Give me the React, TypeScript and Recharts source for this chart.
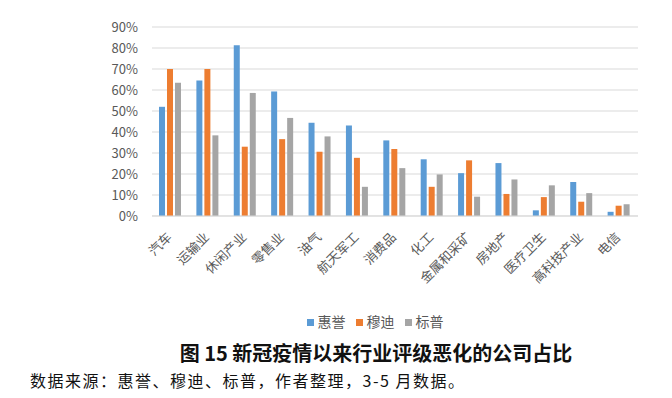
import { BarChart, Bar, XAxis, YAxis, CartesianGrid, Legend } from 'recharts';

const categories = ['汽车', '运输业', '休闲产业', '零售业', '油气', '航天军工', '消费品', '化工', '金属和采矿', '房地产', '医疗卫生', '高科技产业', '电信'];
const fitch = [52, 64.5, 81.3, 59.3, 44.4, 43.1, 36, 27, 20.4, 25.2, 2.7, 16.2, 2];
const moodys = [70, 70, 33, 36.6, 30.6, 27.7, 31.9, 13.9, 26.5, 10.5, 9, 6.8, 4.9];
const sp = [63.4, 38.4, 58.6, 46.7, 37.9, 13.9, 22.8, 19.8, 9.2, 17.4, 14.6, 10.9, 5.6];
const yTicks = [0, 10, 20, 30, 40, 50, 60, 70, 80, 90];

const data = categories.map((c, i) => ({ name: c, a_fitch: fitch[i], b_moodys: moodys[i], c_sp: sp[i] }));

const FONT = '"Noto Sans CJK SC", "Noto Sans", sans-serif';

const XTick = (props: any) => {
  const { x, y, payload } = props;
  return (
    <g transform={`translate(${x + 2},${y + 14})`}>
      <text x={0} y={0} textAnchor="end" transform="rotate(-45)" fontSize={13} fill="#595959" fontFamily={FONT}>
        {payload.value}
      </text>
    </g>
  );
};

const legendFormatter = (value: any) => <span style={{ color: '#595959', fontSize: 14 }}>{value}</span>;

export default function App() {
  return (
    <div style={{ position: 'absolute', left: 0, top: 0, width: 672, height: 398, background: '#fff', fontFamily: FONT }}>
      <BarChart
        width={672}
        height={332}
        data={data}
        margin={{ top: 27, right: 34, left: 0, bottom: 0 }}
        barCategoryGap={7}
        barGap={2}
      >
        <CartesianGrid vertical={false} stroke="#D9D9D9" />
        <XAxis dataKey="name" interval={0} height={92} tick={<XTick />} tickLine={false} axisLine={{ stroke: '#D9D9D9' }} />
        <YAxis
          width={152}
          domain={[0, 90]}
          ticks={yTicks}
          interval={0}
          tickFormatter={(v) => `${v}%`}
          axisLine={false}
          tickLine={false}
          tickMargin={8}
          tick={{ fill: '#595959', fontSize: 13, fontFamily: FONT }}
        />
        <Bar dataKey="a_fitch" name="惠誉" fill="#5B9BD5" isAnimationActive={false} />
        <Bar dataKey="b_moodys" name="穆迪" fill="#ED7D31" isAnimationActive={false} />
        <Bar dataKey="c_sp" name="标普" fill="#A5A5A5" isAnimationActive={false} />
        <Legend
          verticalAlign="bottom"
          height={24}
          iconType="square"
          iconSize={7}
          itemSorter="dataKey"
          wrapperStyle={{ left: 61 }}
          formatter={legendFormatter}
        />
      </BarChart>
      <div style={{ position: 'absolute', left: 0, width: 752, top: 338, textAlign: 'center', fontSize: 20, fontWeight: 700, color: '#111', whiteSpace: 'nowrap' }}>
        图 15 新冠疫情以来行业评级恶化的公司占比
      </div>
      <div style={{ position: 'absolute', left: 30, top: 368, fontSize: 16, letterSpacing: 1.5, color: '#111', whiteSpace: 'nowrap' }}>
        数据来源：惠誉、穆迪、标普，作者整理，3-5 月数据。
      </div>
    </div>
  );
}
